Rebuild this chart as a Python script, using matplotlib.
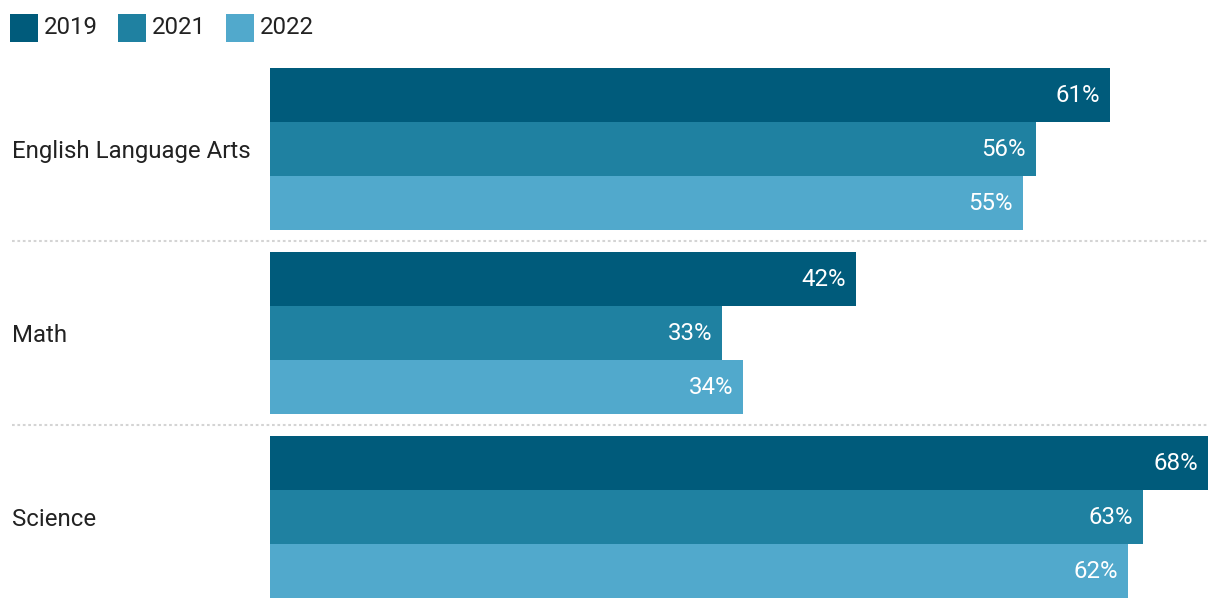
import matplotlib
matplotlib.use("Agg")
import matplotlib.pyplot as plt
from matplotlib.patches import Rectangle

plt.rcParams['font.family'] = ['Roboto', 'DejaVu Sans']

subjects = ["English Language Arts", "Math", "Science"]
years = ["2019", "2021", "2022"]
# bar values estimated from lengths, labels as shown
values = {
    "2019": [60.9, 42.5, 68.0],
    "2021": [55.5, 32.8, 63.3],
    "2022": [54.6, 34.3, 62.2],
}
labels = {
    "2019": [61, 42, 68],
    "2021": [56, 33, 63],
    "2022": [55, 34, 62],
}
colors = ["#005b7b", "#1f81a1", "#51a9cc"]

W, H = 1220, 610
FS = 17.3
fig = plt.figure(figsize=(W / 100, H / 100), dpi=100)

ax = fig.add_axes([270 / W, 1 - 598 / H, (1208 - 270) / W, 530 / H])

bar_h = 1.0
pitch = 3 + 22 / 54
px = 68.0 / (1208 - 270)  # data units per pixel on x

for j, yr in enumerate(years):
    ys = [i * pitch + j * bar_h for i in range(len(subjects))]
    ax.barh(ys, values[yr], height=bar_h, align="edge", color=colors[j], linewidth=0)
    for y, v, lab in zip(ys, values[yr], labels[yr]):
        ax.text(v - 10 * px, y + bar_h / 2, f"{lab}%", color="white", fontsize=FS,
                ha="right", va="center")

ax.set_xlim(0, 68.0)
ax.set_ylim(2 * pitch + 3 * bar_h, 0)
ax.axis("off")

# subject labels and separators
for i, s in enumerate(subjects):
    yc = i * pitch + 1.5 * bar_h
    ax.text(-258 * px, yc, s, fontsize=FS, color="#222222", ha="left",
            va="center_baseline", clip_on=False)
    if i > 0:
        ysep = i * pitch - (pitch - 3) / 2
        ax.plot([-258 * px, 68.0], [ysep, ysep], color="#d4d4d4", lw=1.5,
                linestyle=(0, (1.3, 1.3)), clip_on=False)

# legend
for j, yr in enumerate(years):
    x0 = 10 + j * 108
    fig.add_artist(Rectangle((x0 / W, 1 - 42 / H), 28 / W, 28 / H,
                             transform=fig.transFigure, color=colors[j], lw=0))
    fig.text((x0 + 34) / W, 1 - 28 / H, yr, fontsize=FS, color="#222222",
             ha="left", va="center")

fig.savefig("out.png", dpi=100)
